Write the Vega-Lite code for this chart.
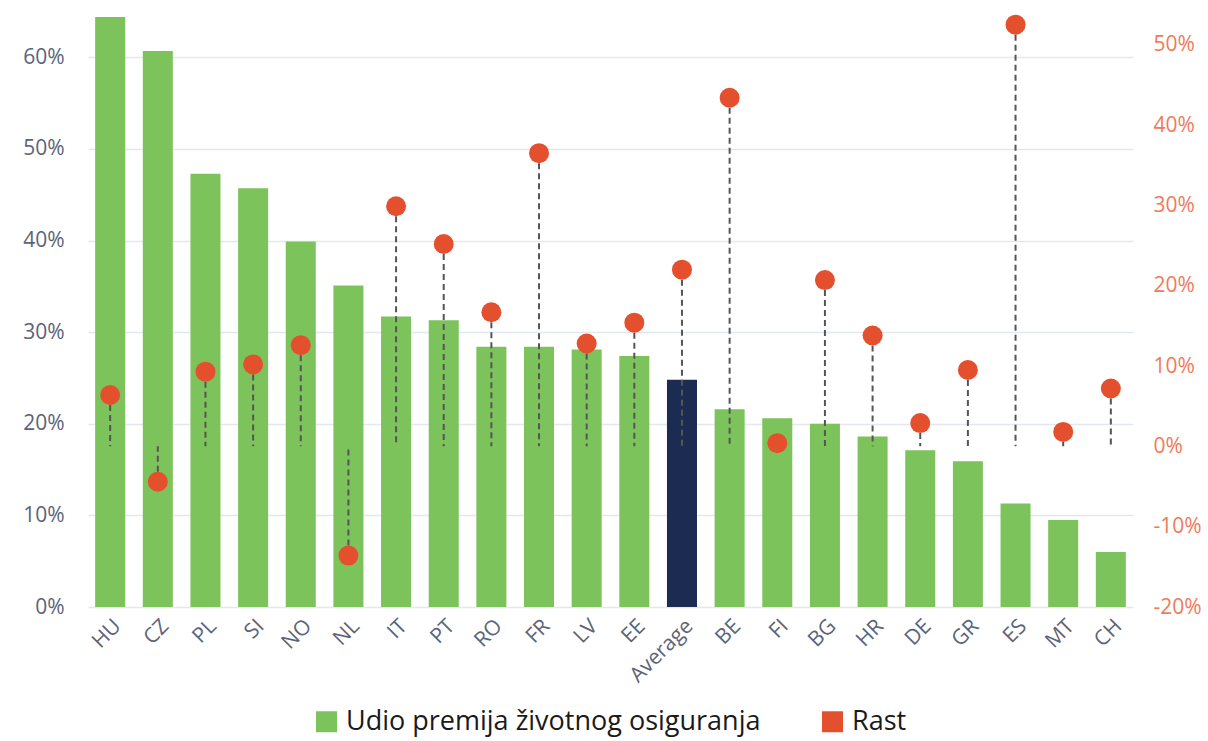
{
  "$schema": "https://vega.github.io/schema/vega-lite/v6.json",
  "autosize": {"type": "none"},
  "padding": {"left": 88, "top": 7, "right": 75, "bottom": 134},
  "width": 1045,
  "height": 600,
  "background": "white",
  "config": {
    "view": {"stroke": null},
    "font": "Open Sans",
    "axis": {"labelFont": "Open Sans", "domain": false, "ticks": false, "title": null}
  },
  "data": {
    "values": [
      {"country": "HU", "share": 0.644, "growth": 0.064},
      {"country": "CZ", "share": 0.607, "growth": -0.044},
      {"country": "PL", "share": 0.473, "growth": 0.093},
      {"country": "SI", "share": 0.457, "growth": 0.102},
      {"country": "NO", "share": 0.399, "growth": 0.126},
      {"country": "NL", "share": 0.351, "growth": -0.136},
      {"country": "IT", "share": 0.317, "growth": 0.299},
      {"country": "PT", "share": 0.313, "growth": 0.252},
      {"country": "RO", "share": 0.284, "growth": 0.167},
      {"country": "FR", "share": 0.284, "growth": 0.365},
      {"country": "LV", "share": 0.281, "growth": 0.128},
      {"country": "EE", "share": 0.274, "growth": 0.154},
      {"country": "Average", "share": 0.248, "growth": 0.220},
      {"country": "BE", "share": 0.216, "growth": 0.434},
      {"country": "FI", "share": 0.206, "growth": 0.004},
      {"country": "BG", "share": 0.200, "growth": 0.207},
      {"country": "HR", "share": 0.186, "growth": 0.138},
      {"country": "DE", "share": 0.171, "growth": 0.029},
      {"country": "GR", "share": 0.159, "growth": 0.095},
      {"country": "ES", "share": 0.113, "growth": 0.525},
      {"country": "MT", "share": 0.095, "growth": 0.018},
      {"country": "CH", "share": 0.060, "growth": 0.072}
    ]
  },
  "encoding": {
    "x": {
      "field": "country",
      "type": "nominal",
      "sort": null,
      "scale": {"paddingInner": 0.37, "paddingOuter": 0.15},
      "axis": {
        "labelAngle": -45,
        "labelFontSize": 21,
        "labelColor": "#5B6478",
        "labelPadding": 8
      }
    }
  },
  "layer": [
    {
      "mark": {"type": "bar"},
      "encoding": {
        "y": {
          "field": "share",
          "type": "quantitative",
          "scale": {"domain": [0, 0.655], "nice": false},
          "axis": {
            "orient": "left",
            "format": ".0%",
            "values": [0, 0.1, 0.2, 0.3, 0.4, 0.5, 0.6],
            "labelFontSize": 21,
            "labelColor": "#5B6478",
            "labelPadding": 24,
            "grid": true,
            "gridColor": "#E3E8EE",
            "gridWidth": 1.5
          }
        },
        "color": {
          "condition": {"test": "datum.country === 'Average'", "value": "#1B2B52"},
          "datum": "Udio premija životnog osiguranja",
          "type": "nominal",
          "scale": {
            "domain": ["Udio premija životnog osiguranja", "Rast"],
            "range": ["#7DC35B", "#E4502E"]
          },
          "legend": {
            "title": null,
            "orient": "none",
            "legendX": 225,
            "legendY": 701,
            "direction": "horizontal",
            "symbolType": "square",
            "symbolSize": 440,
            "symbolStrokeWidth": 0,
            "labelFontSize": 27,
            "labelFont": "Open Sans",
            "labelColor": "#1A1A1A",
            "labelLimit": 700,
            "labelOffset": 6,
            "columnPadding": 58
          }
        }
      }
    },
    {
      "layer": [
        {
          "mark": {"type": "rule", "strokeDash": [6, 4], "strokeWidth": 2, "color": "#555555"},
          "encoding": {
            "y": {
              "field": "growth",
              "type": "quantitative",
              "scale": {"domain": [-0.2, 0.547], "nice": false},
              "axis": {
                "orient": "right",
                "format": ".0%",
                "labelExpr": "replace(datum.label, '\u2212', '-')",
                "values": [-0.2, -0.1, 0, 0.1, 0.2, 0.3, 0.4, 0.5],
                "labelFontSize": 21,
                "labelColor": "#F07A5C",
                "labelPadding": 20,
                "grid": false
              }
            },
            "y2": {"datum": 0}
          }
        },
        {
          "mark": {"type": "point", "filled": true, "shape": "circle", "size": 400, "opacity": 1},
          "encoding": {
            "y": {"field": "growth", "type": "quantitative"},
            "color": {"datum": "Rast", "type": "nominal"}
          }
        }
      ]
    }
  ],
  "resolve": {"scale": {"y": "independent"}}
}
